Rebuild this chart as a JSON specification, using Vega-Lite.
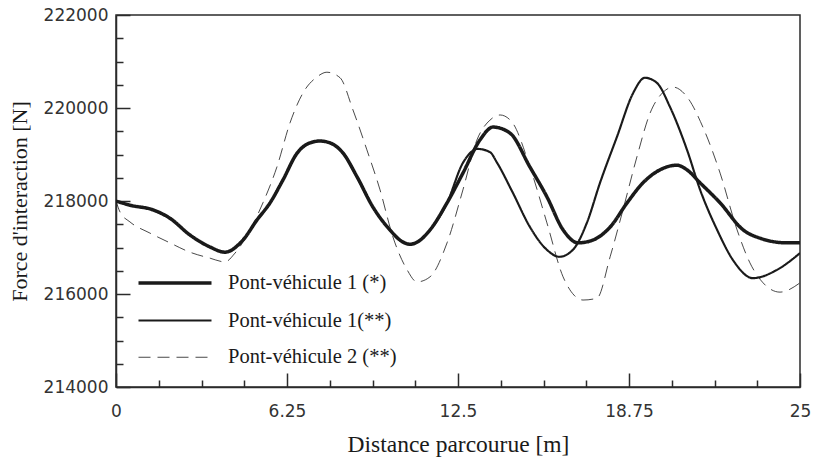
{
  "$schema": "https://vega.github.io/schema/vega-lite/v6.json",
  "width": 684,
  "height": 372,
  "autosize": {"type": "none"},
  "padding": {"left": 116, "top": 15, "right": 15, "bottom": 79},
  "background": "white",
  "config": {
    "view": {"stroke": "#2b2b2b", "strokeWidth": 1.5},
    "font": "Liberation Serif",
    "legend": {
      "orient": "none",
      "legendX": 48,
      "legendY": 257,
      "padding": 0,
      "symbolType": "M-4,0H4",
      "symbolSize": 333,
      "symbolStrokeColor": "#1a1a1a",
      "symbolFillColor": "transparent",
      "labelFont": "Liberation Serif",
      "labelFontSize": 20.5,
      "labelColor": "#1a1a1a",
      "labelOffset": 42,
      "rowPadding": 16,
      "labelLimit": 300
    }
  },
  "datasets": {
    "forces": [
      {"serie": "Pont-véhicule 1 (*)", "d": 0, "f": 218000},
      {"serie": "Pont-véhicule 1 (*)", "d": 0.51, "f": 217910},
      {"serie": "Pont-véhicule 1 (*)", "d": 1.35, "f": 217810},
      {"serie": "Pont-véhicule 1 (*)", "d": 1.97, "f": 217630},
      {"serie": "Pont-véhicule 1 (*)", "d": 2.70, "f": 217270},
      {"serie": "Pont-véhicule 1 (*)", "d": 3.44, "f": 217010},
      {"serie": "Pont-véhicule 1 (*)", "d": 3.98, "f": 216900},
      {"serie": "Pont-véhicule 1 (*)", "d": 4.64, "f": 217160},
      {"serie": "Pont-véhicule 1 (*)", "d": 5.15, "f": 217590},
      {"serie": "Pont-véhicule 1 (*)", "d": 5.63, "f": 217960},
      {"serie": "Pont-véhicule 1 (*)", "d": 6.10, "f": 218450},
      {"serie": "Pont-véhicule 1 (*)", "d": 6.62, "f": 219030},
      {"serie": "Pont-véhicule 1 (*)", "d": 7.09, "f": 219250},
      {"serie": "Pont-véhicule 1 (*)", "d": 7.46, "f": 219290},
      {"serie": "Pont-véhicule 1 (*)", "d": 7.82, "f": 219250},
      {"serie": "Pont-véhicule 1 (*)", "d": 8.30, "f": 219030},
      {"serie": "Pont-véhicule 1 (*)", "d": 8.81, "f": 218520},
      {"serie": "Pont-véhicule 1 (*)", "d": 9.39, "f": 217870},
      {"serie": "Pont-véhicule 1 (*)", "d": 10.01, "f": 217380},
      {"serie": "Pont-véhicule 1 (*)", "d": 10.45, "f": 217130},
      {"serie": "Pont-véhicule 1 (*)", "d": 10.75, "f": 217070},
      {"serie": "Pont-véhicule 1 (*)", "d": 11.05, "f": 217130},
      {"serie": "Pont-véhicule 1 (*)", "d": 11.48, "f": 217380},
      {"serie": "Pont-véhicule 1 (*)", "d": 12.10, "f": 217960},
      {"serie": "Pont-véhicule 1 (*)", "d": 12.68, "f": 218600},
      {"serie": "Pont-véhicule 1 (*)", "d": 13.30, "f": 219310},
      {"serie": "Pont-véhicule 1 (*)", "d": 13.78, "f": 219590},
      {"serie": "Pont-véhicule 1 (*)", "d": 14.40, "f": 219460},
      {"serie": "Pont-véhicule 1 (*)", "d": 15.13, "f": 218730},
      {"serie": "Pont-véhicule 1 (*)", "d": 15.75, "f": 218090},
      {"serie": "Pont-véhicule 1 (*)", "d": 16.34, "f": 217380},
      {"serie": "Pont-véhicule 1 (*)", "d": 16.89, "f": 217100},
      {"serie": "Pont-véhicule 1 (*)", "d": 17.43, "f": 217160},
      {"serie": "Pont-véhicule 1 (*)", "d": 18.06, "f": 217440},
      {"serie": "Pont-véhicule 1 (*)", "d": 18.68, "f": 217960},
      {"serie": "Pont-véhicule 1 (*)", "d": 19.26, "f": 218390},
      {"serie": "Pont-véhicule 1 (*)", "d": 19.88, "f": 218670},
      {"serie": "Pont-véhicule 1 (*)", "d": 20.50, "f": 218770},
      {"serie": "Pont-véhicule 1 (*)", "d": 20.87, "f": 218670},
      {"serie": "Pont-véhicule 1 (*)", "d": 21.35, "f": 218390},
      {"serie": "Pont-véhicule 1 (*)", "d": 22.08, "f": 217960},
      {"serie": "Pont-véhicule 1 (*)", "d": 22.92, "f": 217380},
      {"serie": "Pont-véhicule 1 (*)", "d": 23.54, "f": 217200},
      {"serie": "Pont-véhicule 1 (*)", "d": 24.52, "f": 217100},
      {"serie": "Pont-véhicule 1 (*)", "d": 25, "f": 217100},

      {"serie": "Pont-véhicule 1(**)", "d": 0, "f": 218000},
      {"serie": "Pont-véhicule 1(**)", "d": 0.51, "f": 217910},
      {"serie": "Pont-véhicule 1(**)", "d": 1.35, "f": 217810},
      {"serie": "Pont-véhicule 1(**)", "d": 1.97, "f": 217630},
      {"serie": "Pont-véhicule 1(**)", "d": 2.70, "f": 217270},
      {"serie": "Pont-véhicule 1(**)", "d": 3.44, "f": 217010},
      {"serie": "Pont-véhicule 1(**)", "d": 3.98, "f": 216900},
      {"serie": "Pont-véhicule 1(**)", "d": 4.64, "f": 217160},
      {"serie": "Pont-véhicule 1(**)", "d": 5.15, "f": 217590},
      {"serie": "Pont-véhicule 1(**)", "d": 5.63, "f": 217960},
      {"serie": "Pont-véhicule 1(**)", "d": 6.10, "f": 218450},
      {"serie": "Pont-véhicule 1(**)", "d": 6.62, "f": 219030},
      {"serie": "Pont-véhicule 1(**)", "d": 7.09, "f": 219250},
      {"serie": "Pont-véhicule 1(**)", "d": 7.46, "f": 219290},
      {"serie": "Pont-véhicule 1(**)", "d": 7.82, "f": 219250},
      {"serie": "Pont-véhicule 1(**)", "d": 8.30, "f": 219030},
      {"serie": "Pont-véhicule 1(**)", "d": 8.81, "f": 218520},
      {"serie": "Pont-véhicule 1(**)", "d": 9.39, "f": 217870},
      {"serie": "Pont-véhicule 1(**)", "d": 10.01, "f": 217380},
      {"serie": "Pont-véhicule 1(**)", "d": 10.45, "f": 217130},
      {"serie": "Pont-véhicule 1(**)", "d": 10.75, "f": 217070},
      {"serie": "Pont-véhicule 1(**)", "d": 11.05, "f": 217130},
      {"serie": "Pont-véhicule 1(**)", "d": 11.48, "f": 217380},
      {"serie": "Pont-véhicule 1(**)", "d": 12.10, "f": 217960},
      {"serie": "Pont-véhicule 1(**)", "d": 12.68, "f": 218820},
      {"serie": "Pont-véhicule 1(**)", "d": 13.23, "f": 219120},
      {"serie": "Pont-véhicule 1(**)", "d": 13.67, "f": 219050},
      {"serie": "Pont-véhicule 1(**)", "d": 13.93, "f": 218820},
      {"serie": "Pont-véhicule 1(**)", "d": 14.51, "f": 218170},
      {"serie": "Pont-véhicule 1(**)", "d": 15.13, "f": 217440},
      {"serie": "Pont-véhicule 1(**)", "d": 15.75, "f": 216950},
      {"serie": "Pont-véhicule 1(**)", "d": 16.20, "f": 216800},
      {"serie": "Pont-véhicule 1(**)", "d": 16.70, "f": 216950},
      {"serie": "Pont-véhicule 1(**)", "d": 17.21, "f": 217530},
      {"serie": "Pont-véhicule 1(**)", "d": 17.69, "f": 218390},
      {"serie": "Pont-véhicule 1(**)", "d": 18.31, "f": 219380},
      {"serie": "Pont-véhicule 1(**)", "d": 18.90, "f": 220320},
      {"serie": "Pont-véhicule 1(**)", "d": 19.33, "f": 220650},
      {"serie": "Pont-véhicule 1(**)", "d": 19.77, "f": 220540},
      {"serie": "Pont-véhicule 1(**)", "d": 20.25, "f": 220020},
      {"serie": "Pont-véhicule 1(**)", "d": 20.87, "f": 219100},
      {"serie": "Pont-véhicule 1(**)", "d": 21.35, "f": 218240},
      {"serie": "Pont-véhicule 1(**)", "d": 21.97, "f": 217380},
      {"serie": "Pont-véhicule 1(**)", "d": 22.55, "f": 216730},
      {"serie": "Pont-véhicule 1(**)", "d": 23.28, "f": 216340},
      {"serie": "Pont-véhicule 1(**)", "d": 24.16, "f": 216520},
      {"serie": "Pont-véhicule 1(**)", "d": 25, "f": 216880},

      {"serie": "Pont-véhicule 2 (**)", "d": 0, "f": 218000},
      {"serie": "Pont-véhicule 2 (**)", "d": 0.15, "f": 217760},
      {"serie": "Pont-véhicule 2 (**)", "d": 0.51, "f": 217550},
      {"serie": "Pont-véhicule 2 (**)", "d": 1.24, "f": 217310},
      {"serie": "Pont-véhicule 2 (**)", "d": 1.97, "f": 217100},
      {"serie": "Pont-véhicule 2 (**)", "d": 2.70, "f": 216900},
      {"serie": "Pont-véhicule 2 (**)", "d": 3.44, "f": 216770},
      {"serie": "Pont-véhicule 2 (**)", "d": 3.98, "f": 216690},
      {"serie": "Pont-véhicule 2 (**)", "d": 4.35, "f": 216880},
      {"serie": "Pont-véhicule 2 (**)", "d": 4.90, "f": 217380},
      {"serie": "Pont-véhicule 2 (**)", "d": 5.37, "f": 217960},
      {"serie": "Pont-véhicule 2 (**)", "d": 5.88, "f": 218730},
      {"serie": "Pont-véhicule 2 (**)", "d": 6.36, "f": 219680},
      {"serie": "Pont-véhicule 2 (**)", "d": 6.83, "f": 220320},
      {"serie": "Pont-véhicule 2 (**)", "d": 7.35, "f": 220670},
      {"serie": "Pont-véhicule 2 (**)", "d": 7.71, "f": 220770},
      {"serie": "Pont-véhicule 2 (**)", "d": 8.19, "f": 220650},
      {"serie": "Pont-véhicule 2 (**)", "d": 8.66, "f": 219960},
      {"serie": "Pont-véhicule 2 (**)", "d": 9.17, "f": 219100},
      {"serie": "Pont-véhicule 2 (**)", "d": 9.65, "f": 218240},
      {"serie": "Pont-véhicule 2 (**)", "d": 10.12, "f": 217230},
      {"serie": "Pont-véhicule 2 (**)", "d": 10.64, "f": 216520},
      {"serie": "Pont-véhicule 2 (**)", "d": 11.00, "f": 216260},
      {"serie": "Pont-véhicule 2 (**)", "d": 11.48, "f": 216370},
      {"serie": "Pont-véhicule 2 (**)", "d": 12.10, "f": 217100},
      {"serie": "Pont-véhicule 2 (**)", "d": 12.68, "f": 218240},
      {"serie": "Pont-véhicule 2 (**)", "d": 13.19, "f": 219310},
      {"serie": "Pont-véhicule 2 (**)", "d": 13.67, "f": 219740},
      {"serie": "Pont-véhicule 2 (**)", "d": 14.04, "f": 219850},
      {"serie": "Pont-véhicule 2 (**)", "d": 14.47, "f": 219700},
      {"serie": "Pont-véhicule 2 (**)", "d": 15.13, "f": 218730},
      {"serie": "Pont-véhicule 2 (**)", "d": 15.75, "f": 217530},
      {"serie": "Pont-véhicule 2 (**)", "d": 16.34, "f": 216370},
      {"serie": "Pont-véhicule 2 (**)", "d": 16.59, "f": 216090},
      {"serie": "Pont-véhicule 2 (**)", "d": 17.07, "f": 215870},
      {"serie": "Pont-véhicule 2 (**)", "d": 17.58, "f": 215910},
      {"serie": "Pont-véhicule 2 (**)", "d": 18.06, "f": 216800},
      {"serie": "Pont-véhicule 2 (**)", "d": 18.53, "f": 217810},
      {"serie": "Pont-véhicule 2 (**)", "d": 19.04, "f": 218950},
      {"serie": "Pont-véhicule 2 (**)", "d": 19.52, "f": 219890},
      {"serie": "Pont-véhicule 2 (**)", "d": 20.00, "f": 220340},
      {"serie": "Pont-véhicule 2 (**)", "d": 20.36, "f": 220450},
      {"serie": "Pont-véhicule 2 (**)", "d": 20.87, "f": 220240},
      {"serie": "Pont-véhicule 2 (**)", "d": 21.45, "f": 219590},
      {"serie": "Pont-véhicule 2 (**)", "d": 22.08, "f": 218600},
      {"serie": "Pont-véhicule 2 (**)", "d": 22.70, "f": 217380},
      {"serie": "Pont-véhicule 2 (**)", "d": 23.17, "f": 216670},
      {"serie": "Pont-véhicule 2 (**)", "d": 23.65, "f": 216240},
      {"serie": "Pont-véhicule 2 (**)", "d": 24.27, "f": 216040},
      {"serie": "Pont-véhicule 2 (**)", "d": 25, "f": 216240}
    ]
  },
  "data": {"name": "forces"},
  "mark": {"type": "line", "interpolate": "monotone", "color": "#1a1a1a", "clip": true},
  "encoding": {
    "x": {
      "field": "d",
      "type": "quantitative",
      "scale": {"domain": [0, 25], "nice": false, "zero": false},
      "axis": {
        "title": "Distance parcourue [m]",
        "values": [0, 1.5625, 3.125, 4.6875, 6.25, 7.8125, 9.375, 10.9375, 12.5, 14.0625, 15.625, 17.1875, 18.75, 20.3125, 21.875, 23.4375, 25],
        "tickSize": {"condition": {"test": "datum.value % 6.25 !== 0", "value": -7}, "value": -14},
        "labelExpr": "datum.value % 6.25 === 0 ? '' + datum.value : ''",
        "grid": false,
        "domainColor": "#2b2b2b",
        "domainWidth": 1.5,
        "tickColor": "#2b2b2b",
        "tickWidth": 1.5,
        "labelFont": "DejaVu Sans",
        "labelFontSize": 17,
        "labelColor": "#333333",
        "labelPadding": 30,
        "labelFlush": false,
        "labelOverlap": false,
        "titleFont": "Liberation Serif",
        "titleFontSize": 23.5,
        "titleFontWeight": "normal",
        "titleColor": "#1a1a1a",
        "titlePadding": 6
      }
    },
    "y": {
      "field": "f",
      "type": "quantitative",
      "scale": {"domain": [214000, 222000], "nice": false, "zero": false},
      "axis": {
        "title": "Force d'interaction [N]",
        "values": [214000, 214500, 215000, 215500, 216000, 216500, 217000, 217500, 218000, 218500, 219000, 219500, 220000, 220500, 221000, 221500, 222000],
        "tickSize": {"condition": {"test": "datum.value % 2000 !== 0", "value": -7}, "value": -14},
        "labelExpr": "datum.value % 2000 === 0 ? '' + datum.value : ''",
        "grid": false,
        "domainColor": "#2b2b2b",
        "domainWidth": 1.5,
        "tickColor": "#2b2b2b",
        "tickWidth": 1.5,
        "labelFont": "DejaVu Sans",
        "labelFontSize": 17,
        "labelColor": "#333333",
        "labelPadding": 22,
        "labelFlush": false,
        "labelOverlap": false,
        "titleFont": "Liberation Serif",
        "titleFontSize": 22,
        "titleFontWeight": "normal",
        "titleColor": "#1a1a1a",
        "titlePadding": 12
      }
    },
    "strokeWidth": {
      "field": "serie",
      "type": "ordinal",
      "scale": {"domain": ["Pont-véhicule 1 (*)", "Pont-véhicule 1(**)", "Pont-véhicule 2 (**)"], "range": [3.5, 0.8, 0.8]},
      "legend": {
        "title": null,
        "encode": {
          "symbols": {"update": {"strokeDash": {"signal": "datum.value === 'Pont-véhicule 2 (**)' ? [37, 11] : [1, 0]"}}}
        }
      }
    },
    "strokeDash": {
      "field": "serie",
      "type": "ordinal",
      "scale": {"domain": ["Pont-véhicule 1 (*)", "Pont-véhicule 1(**)", "Pont-véhicule 2 (**)"], "range": [[1, 0], [1, 0], [12, 7]]},
      "legend": {
        "title": null,
        "encode": {
          "symbols": {"update": {"strokeDash": {"signal": "datum.value === 'Pont-véhicule 2 (**)' ? [37, 11] : [1, 0]"}}}
        }
      }
    }
  }
}
